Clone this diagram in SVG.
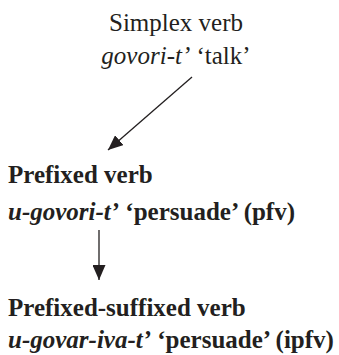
<svg xmlns="http://www.w3.org/2000/svg" width="339" height="355" viewBox="0 0 339 355">
<defs>
<style>
text{font-family:"Liberation Serif","Times New Roman",serif;font-size:25px;fill:#231f20}
.b{font-weight:bold}
.i{font-style:italic}
.c{stroke:#231f20;stroke-width:1.3;fill:none}
</style>
<marker id="ah" markerWidth="15" markerHeight="13" refX="15" refY="6.5" orient="auto" markerUnits="userSpaceOnUse">
<path d="M0,0 L15,6.5 L0,13 Z" fill="#231f20"/>
</marker>
</defs>
<rect width="339" height="355" fill="#fff"/>
<g id="simplex">
<text x="176" y="31" text-anchor="middle">Simplex verb</text>
<text x="176" y="64" text-anchor="middle"><tspan class="i">govori-t’</tspan> ‘talk’</text>
</g>
<g id="prefixed">
<text x="8" y="183" class="b">Prefixed verb</text>
<text x="8" y="220" class="b"><tspan class="i">u-govori-t’</tspan> ‘persuade’ (pfv)</text>
</g>
<g id="prefixed-suffixed">
<text x="8" y="316" class="b">Prefixed-suffixed verb</text>
<text x="8" y="348" class="b"><tspan class="i">u-govar-iva-t’</tspan> ‘persuade’ (ipfv)</text>
</g>
<g id="connectors">
<line class="c" x1="192" y1="77" x2="108" y2="150" marker-end="url(#ah)"/>
<line class="c" x1="99" y1="230" x2="99" y2="280" marker-end="url(#ah)"/>
</g>
</svg>
